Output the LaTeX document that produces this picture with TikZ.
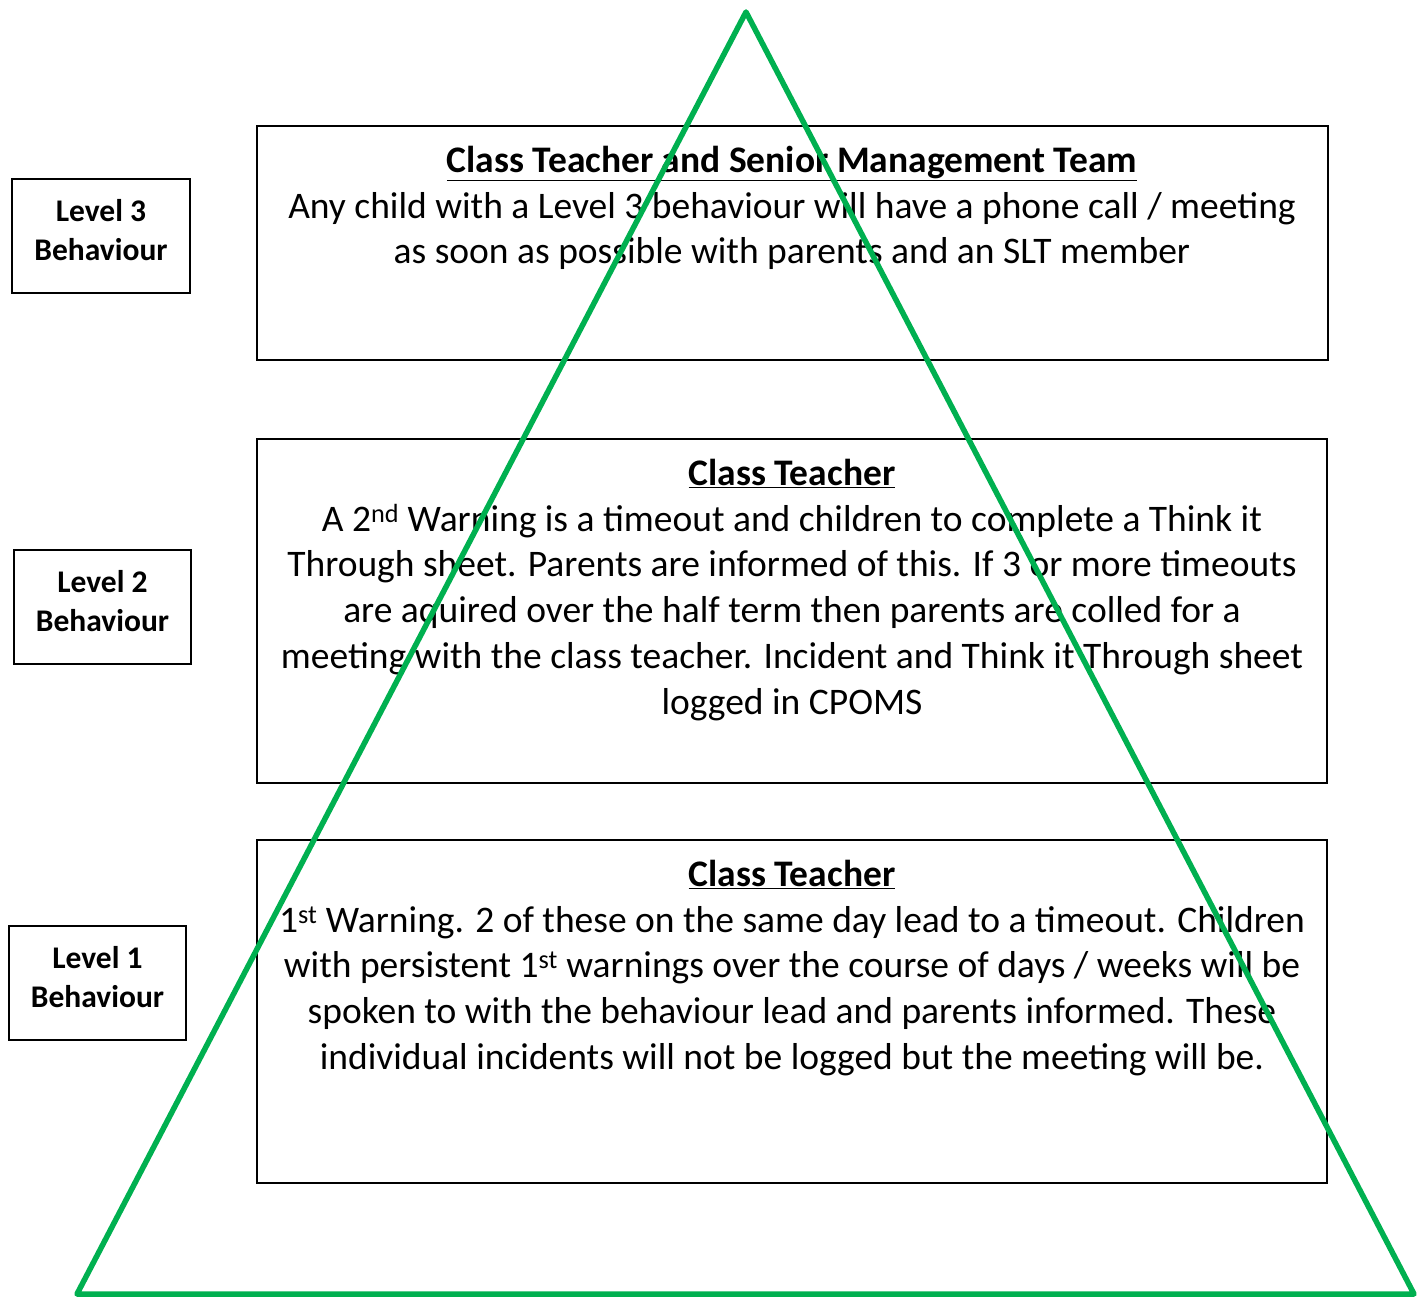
\documentclass[tikz,border=0pt]{standalone}
\usepackage{fontspec}
\setmainfont{Carlito}
\definecolor{tgreen}{RGB}{0,176,80}
\begin{document}
\begin{tikzpicture}[x=1pt,y=-1pt,
  box/.style={draw=black,line width=1.6pt,fill=white},
  maintext/.style={align=center,inner sep=0pt,anchor=north,font=\fontsize{37.5}{45.7}\selectfont},
  lvltext/.style={align=center,inner sep=0pt,anchor=center,font=\bfseries\fontsize{31.5}{39}\selectfont}]
\useasboundingbox (0,0) rectangle (1428,1298);
% level boxes
\node[box,minimum width=178pt,minimum height=114pt,inner sep=0pt] (l3) at (101,236) {};
\node[box,minimum width=177pt,minimum height=114pt,inner sep=0pt] (l2) at (102.5,607) {};
\node[box,minimum width=177pt,minimum height=114pt,inner sep=0pt] (l1) at (97.5,983) {};
\node[lvltext] (l3t) at ([yshift=6pt]l3.center) {Level 3\\Behaviour};
\node[lvltext] (l2t) at ([yshift=6pt]l2.center) {Level 2\\Behaviour};
\node[lvltext] (l1t) at ([yshift=6pt]l1.center) {Level 1\\Behaviour};
% main boxes
\draw[box] (257,126) rectangle (1328,360) coordinate (b3);
\draw[box] (257,439) rectangle (1327,783) coordinate (b2);
\draw[box] (257,840) rectangle (1327,1183) coordinate (b1);
\node[maintext] (t3) at (792,146) {\textbf{\underline{Class Teacher and Senior Management Team}}\\
Any child with a Level 3 behaviour will have a phone call / meeting\\
as soon as possible with parents and an SLT member};
\node[maintext] (t2) at (792,459) {\textbf{\underline{Class Teacher}}\\
A 2\textsuperscript{nd} Warning is a timeout and children to complete a Think it\\
Through sheet. Parents are informed of this. If 3 or more timeouts\\
are aquired over the half term then parents are colled for a\\
meeting with the class teacher. Incident and Think it Through sheet\\
logged in CPOMS};
\node[maintext] (t1) at (792,860) {\textbf{\underline{Class Teacher}}\\
1\textsuperscript{st} Warning. 2 of these on the same day lead to a timeout. Children\\
with persistent 1\textsuperscript{st} warnings over the course of days / weeks will be\\
spoken to with the behaviour lead and parents informed. These\\
individual incidents will not be logged but the meeting will be.};
% triangle
\coordinate (apex) at (746,12);
\coordinate (bl) at (77,1294);
\coordinate (br) at (1414,1294);
\draw[tgreen,line width=5.5pt,line join=round] (apex) -- (bl) -- (br) -- cycle;
\end{tikzpicture}
\end{document}
